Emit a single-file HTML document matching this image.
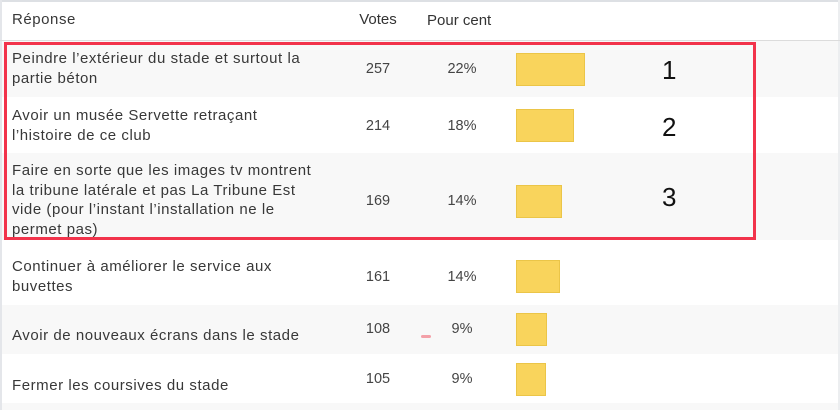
<!DOCTYPE html>
<html><head><meta charset="utf-8"><style>
body{margin:0;width:840px;height:410px;overflow:hidden;background:#fff;font-family:"Liberation Sans",sans-serif;color:#3a3a3a;position:relative}
.a{position:absolute}
.t{position:absolute;left:12px;font-size:15px;letter-spacing:0.55px;line-height:19.5px;color:#383838;white-space:nowrap}
.v{position:absolute;width:60px;text-align:center;font-size:14.5px;color:#444}
.bar{position:absolute;left:516px;background:#f9d45c;border:1px solid #ebc548;box-sizing:border-box}
.n{position:absolute;font-size:26px;color:#111;left:662px}
</style></head><body>
<div class="a" style="left:0;top:0;width:840px;height:2px;background:#dde0e4"></div>
<div class="a" style="left:0;top:0;width:2px;height:410px;background:#e4e6ea"></div>
<div class="a" style="left:838px;top:0;width:2px;height:410px;background:#eceef0"></div>
<div class="a" style="left:0;top:40px;width:840px;height:1px;background:#dcdcdc"></div>
<div class="a" style="left:2px;top:41px;width:836px;height:56px;background:#f8f8f8"></div>
<div class="a" style="left:2px;top:153px;width:836px;height:87px;background:#f8f8f8"></div>
<div class="a" style="left:2px;top:305px;width:836px;height:49px;background:#f8f8f8"></div>
<div class="a" style="left:2px;top:403px;width:836px;height:7px;background:#f8f8f8"></div>
<div class="t" style="top:10px">Réponse</div>
<div class="v" style="left:348px;top:11px;color:#333;font-size:15px">Votes</div>
<div class="a" style="left:427px;top:11px;font-size:15px;line-height:20px;color:#333">Pour cent</div>

<div class="t" style="top:49px">Peindre l’extérieur du stade et surtout la<br>partie béton</div>
<div class="v" style="left:348px;top:61px">257</div><div class="v" style="left:432px;top:61px">22%</div>
<div class="bar" style="top:53px;width:69px;height:33px"></div><div class="n" style="top:55px">1</div>

<div class="t" style="top:106px">Avoir un musée Servette retraçant<br>l’histoire de ce club</div>
<div class="v" style="left:348px;top:118px">214</div><div class="v" style="left:432px;top:118px">18%</div>
<div class="bar" style="top:109px;width:58px;height:33px"></div><div class="n" style="top:112px">2</div>

<div class="t" style="top:161px">Faire en sorte que les images tv montrent<br>la tribune latérale et pas La Tribune Est<br>vide (pour l’instant l’installation ne le<br>permet pas)</div>
<div class="v" style="left:348px;top:193px">169</div><div class="v" style="left:432px;top:193px">14%</div>
<div class="bar" style="top:185px;width:46px;height:33px"></div><div class="n" style="top:182px">3</div>

<div class="a" style="left:4px;top:42px;width:746px;height:192px;border:3px solid #f2334b"></div>

<div class="t" style="top:257px">Continuer à améliorer le service aux<br>buvettes</div>
<div class="v" style="left:348px;top:269px">161</div><div class="v" style="left:432px;top:269px">14%</div>
<div class="bar" style="top:260px;width:44px;height:33px"></div>

<div class="t" style="top:326px">Avoir de nouveaux écrans dans le stade</div>
<div class="v" style="left:348px;top:321px">108</div><div class="v" style="left:432px;top:321px">9%</div>
<div class="a" style="left:421px;top:335px;width:10px;height:3px;background:#f3a0a8;border-radius:2px"></div>
<div class="bar" style="top:313px;width:31px;height:33px"></div>

<div class="t" style="top:376px">Fermer les coursives du stade</div>
<div class="v" style="left:348px;top:371px">105</div><div class="v" style="left:432px;top:371px">9%</div>
<div class="bar" style="top:363px;width:30px;height:33px"></div>
</body></html>
